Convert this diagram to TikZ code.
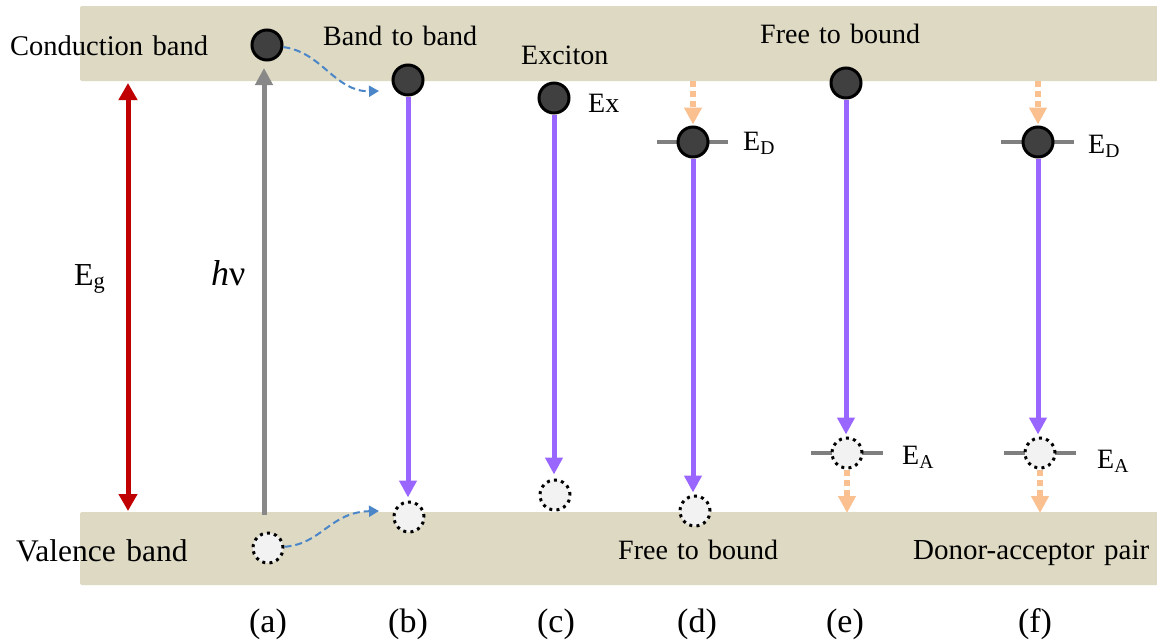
\documentclass[tikz,border=0pt]{standalone}
\usepackage{fontspec}
\setmainfont{Liberation Serif}
\usetikzlibrary{arrows.meta}
\definecolor{bandc}{HTML}{DDD9C3}
\definecolor{egc}{HTML}{C00000}
\definecolor{purp}{HTML}{9966FF}
\definecolor{orng}{HTML}{FAC090}
\definecolor{blu}{HTML}{4A86C8}
\definecolor{elecc}{HTML}{404040}
\definecolor{holec}{HTML}{F2F2F2}
\definecolor{lvl}{HTML}{7F7F7F}
\definecolor{hvg}{HTML}{888888}
\newcommand\bigtxt{\fontsize{28}{33}\selectfont}
\newcommand\labtxt{\fontsize{34}{40}\selectfont}
\newcommand\wsp{\hspace{0.33em}}
\tikzset{
  electron/.style={circle, draw=black, fill=elecc, line width=3pt, minimum size=30pt, inner sep=0pt},
  hole/.style={circle, draw=black, fill=holec, line width=3pt, dash pattern=on 3pt off 4.2pt, minimum size=30pt, inner sep=0pt},
  level/.style={draw=lvl, line width=4pt},
  purparrow/.style={draw=purp, line width=5pt, -{Triangle[width=17pt,length=17pt]}},
  orarrow/.style={draw=orng, line width=6pt, dash pattern=on 6pt off 4pt, -{Triangle[width=17pt,length=17pt]}},
  bluarrow/.style={draw=blu, line width=2pt, dash pattern=on 7pt off 4pt, -{Triangle[width=11pt,length=10pt]}},
  txt/.style={inner sep=0pt, font=\bigtxt},
  lab/.style={inner sep=0pt, font=\labtxt, anchor=base},
  lev/.style={inner sep=0pt, font=\bigtxt, anchor=base west}
}
\begin{document}
\begin{tikzpicture}[x=1pt,y=-1pt]
\useasboundingbox (0,0) rectangle (1157,643);
\fill[white] (0,0) rectangle (1157,643);
% bands
\fill[bandc, rounded corners=2pt] (80,6) rectangle (1170,81);
\fill[bandc, rounded corners=2pt] (80,512) rectangle (1170,585);
% band labels
\node[txt, anchor=base west, font=\fontsize{28.5}{34}\selectfont] (cb) at (10,55) {Conduction\wsp band};
\node[txt, anchor=base west, font=\fontsize{31.5}{38}\selectfont] (vb) at (16,561) {Valence\wsp band};
% Eg arrow
\coordinate (egtop) at (128,83);
\coordinate (egbot) at (128,511);
\draw[egc, line width=5pt, {Triangle[width=18pt,length=17pt]}-{Triangle[width=18pt,length=17pt]}] (egtop) -- (egbot);
\node[inner sep=0pt, anchor=base west, font=\fontsize{32}{38}\selectfont] (eg) at (74,285) {E\textsubscript{g}};
% level lines
\draw[level] (657,142) -- (728,142);
\draw[level] (811,453) -- (883,453);
\draw[level] (1001,142) -- (1074,142);
\draw[level] (1004,453) -- (1076,453);
% (a)
\node[electron] (ea) at (267,45) {};
\node[hole] (ha) at (268,548) {};
\coordinate (gbot) at (264,515);
\coordinate (gtop) at (264,68);
\draw[hvg, line width=5pt, -{Triangle[width=17pt,length=17pt]}] (gbot) -- (gtop);
\node[inner sep=0pt, anchor=base west, font=\fontsize{36}{42}\selectfont] (hv) at (211,285) {\textit{h}ν};
% (b)
\node[electron] (eb) at (408,80) {};
\node[hole] (hb) at (409,517) {};
\draw[purparrow, shorten >=3pt] (eb.south) -- (eb.south |- hb.north);
\coordinate (bt1) at (379,91);
\coordinate (bt2) at (379,511);
\draw[bluarrow] (ea) .. controls (322,52) and (335,92) .. (bt1);
\draw[bluarrow] (ha) .. controls (322,544) and (330,512) .. (bt2);
\node[txt, anchor=base west] (t1) at (323,45) {Band\wsp to\wsp band};
% (c)
\node[electron] (ec) at (554,98) {};
\node[hole] (hc) at (555,495) {};
\draw[purparrow, shorten >=4pt] (ec.south) -- (ec.south |- hc.north);
\node[txt, anchor=base west] (t2) at (521,64) {Exciton};
\node[lev] (ex) at (588,112) {Ex};
% (d)
\node[electron] (ed) at (693,142) {};
\node[hole] (hd) at (695,511) {};
\draw[purparrow, shorten >=2pt] (ed.south) -- (ed.south |- hd.north);
\coordinate (od) at (693,81);
\draw[orarrow, shorten >=1pt] (od) -- (ed.north);
\node[lev] (edl) at (743,150) {E\textsubscript{D}};
\node[txt, anchor=base west] (t4) at (618,559) {Free\wsp to\wsp bound};
% (e)
\node[electron] (ee) at (846,83) {};
\node[hole] (he) at (847,453) {};
\draw[purparrow, shorten >=2pt] (ee.south) -- (ee.south |- he.north);
\coordinate (oe) at (847,513);
\draw[orarrow] (he.south) -- (oe);
\node[lev] (eal) at (902,464) {E\textsubscript{A}};
\node[txt, anchor=base west] (t3) at (760,43) {Free\wsp to\wsp bound};
% (f)
\node[electron] (ef) at (1038,142) {};
\node[hole] (hf) at (1040,453) {};
\draw[purparrow, shorten >=2pt] (ef.south) -- (ef.south |- hf.north);
\coordinate (of) at (1038,81);
\draw[orarrow, shorten >=1pt] (of) -- (ef.north);
\coordinate (of2) at (1040,513);
\draw[orarrow] (hf.south) -- (of2);
\node[lev] (edf) at (1088,153) {E\textsubscript{D}};
\node[lev] (eaf) at (1097,468) {E\textsubscript{A}};
\node[txt, anchor=base west, font=\fontsize{29}{34}\selectfont] (t5) at (913,559) {Donor-acceptor\wsp pair};
% panel labels
\node[lab] (la) at (268,632) {(a)};
\node[lab] (lb) at (408,632) {(b)};
\node[lab] (lc) at (556,632) {(c)};
\node[lab] (ld) at (697,632) {(d)};
\node[lab] (le) at (845,632) {(e)};
\node[lab] (lf) at (1035,632) {(f)};
\end{tikzpicture}
\end{document}
